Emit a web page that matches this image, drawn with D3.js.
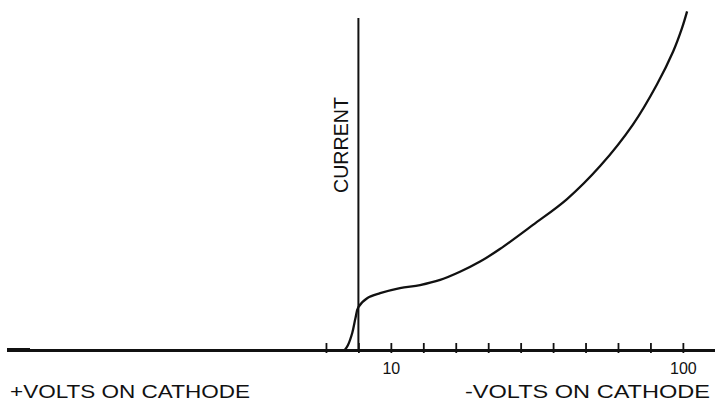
<!DOCTYPE html>
<html>
<head>
<meta charset="utf-8">
<script src="https://cdn.jsdelivr.net/npm/d3@7"></script>
<style>
  body { margin: 0; background: #fff; overflow: hidden; }
  text { font-family: "Liberation Sans", Arial, sans-serif; fill: #111; }
</style>
</head>
<body>
<div id="chart"></div>
<script>
// volts (negative on cathode to the right), current in arbitrary units
const volts = [-4.2, -3.2, -1.9, -0.9, 0, 2.8, 6.7, 12.8, 19.0, 25.2, 31.3, 37.5, 43.6, 53.8, 64.3, 74.5, 84.6, 92.0, 97.0, 99.7, 101.3];
const current = [0, 1.5, 5.0, 9.4, 12.6, 15.3, 16.7, 18.2, 19.1, 20.6, 23.0, 26.0, 29.7, 36.8, 44.4, 54.1, 66.3, 78.1, 87.8, 94.6, 99.6];
const tickValues = [-10, 0, 10, 20, 30, 40, 50, 60, 70, 80, 90, 100];
const tickLabels = ['', '', '10', '', '', '', '', '', '', '', '', '100'];

const width = 715;
const height = 403;

const svg = d3.select('#chart')
  .append('svg')
    .attr('width', width)
    .attr('height', height)
    .style('display', 'block');

const x = d3.scaleLinear()
  .domain([-108.3, 109.9])
  .range([7, 715]);

const y = d3.scaleLinear()
  .domain([0, 100])
  .range([350, 10]);

// vertical current axis
svg.append('line')
  .attr('x1', x(0)).attr('x2', x(0))
  .attr('y1', 18).attr('y2', y(0))
  .attr('stroke', '#111')
  .attr('stroke-width', 2);

// horizontal volts axis, labels through tick format
const axis = svg.append('g')
  .attr('transform', `translate(0, ${y(0)})`)
  .call(d3.axisBottom(x)
    .tickValues(tickValues)
    .tickSizeInner(3)
    .tickSizeOuter(0)
    .tickPadding(10)
    .tickFormat((d, i) => tickLabels[i]));

axis.select('.domain')
  .attr('stroke', '#111')
  .attr('stroke-width', 3);

// ticks stick out more above the line
axis.selectAll('.tick line')
  .attr('y1', -7)
  .attr('y2', 3)
  .attr('stroke', '#111')
  .attr('stroke-width', 1.8);

axis.selectAll('.tick text')
  .attr('font-family', '"Liberation Sans", Arial, sans-serif')
  .attr('font-size', 16)
  .attr('fill', '#111');

// thicker blob at the left end of the axis
svg.append('line')
  .attr('x1', 7).attr('x2', 30)
  .attr('y1', y(0)).attr('y2', y(0))
  .attr('stroke', '#111')
  .attr('stroke-width', 4);

// the curve
const line = d3.line()
  .x((d, i) => x(volts[i]))
  .y((d, i) => y(current[i]))
  .curve(d3.curveCatmullRom.alpha(0.5));

svg.append('path')
  .attr('d', line(volts))
  .attr('fill', 'none')
  .attr('stroke', '#111')
  .attr('stroke-width', 2.3);

// labels
svg.append('text')
  .attr('transform', `translate(348, 145) rotate(-90)`)
  .attr('text-anchor', 'middle')
  .attr('font-size', 20)
  .attr('textLength', 96)
  .attr('lengthAdjust', 'spacingAndGlyphs')
  .text('CURRENT');

svg.append('text')
  .attr('x', 10)
  .attr('y', 398)
  .attr('font-size', 19)
  .attr('textLength', 240)
  .attr('lengthAdjust', 'spacingAndGlyphs')
  .text('+VOLTS ON CATHODE');

svg.append('text')
  .attr('x', 465)
  .attr('y', 398)
  .attr('font-size', 19)
  .attr('textLength', 245)
  .attr('lengthAdjust', 'spacingAndGlyphs')
  .text('-VOLTS ON CATHODE');
</script>
</body>
</html>
